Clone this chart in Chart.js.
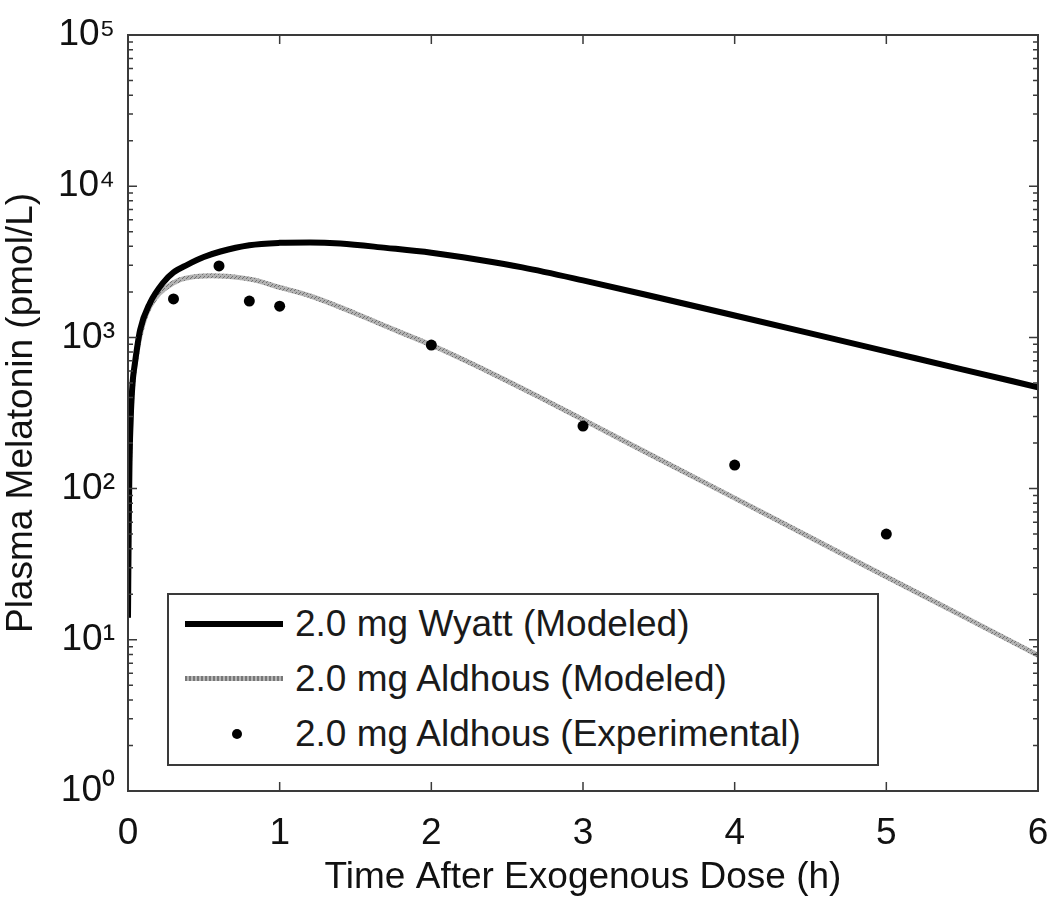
<!DOCTYPE html>
<html>
<head>
<meta charset="utf-8">
<script src="https://cdn.jsdelivr.net/npm/chart.js@4.4.1/dist/chart.umd.min.js"></script>
<style>
    body { margin: 0; background: #fff; }
    #wrap { position: relative; width: 1050px; height: 908px; }
    #legend {
        position: absolute; left: 167px; top: 593px; width: 708px; height: 169px;
        border: 2px solid #3a3a3a; background: #fff;
        font-family: "Liberation Sans", Arial, sans-serif; font-size: 37px; color: #1a1a1a;
    }
    .row { position: absolute; left: 0; height: 40px; display: flex; align-items: center; }
    .sample { position: absolute; left: 16px; width: 98px; }
    .txt { position: absolute; left: 126px; white-space: nowrap; }
</style>
</head>
<body>
<div id="wrap">
    <canvas id="melatoninChart" width="1050" height="908"></canvas>
    <div id="legend"></div>
</div>
<script>
// values (time in h, concentration in pmol/L)
const wyattTime = [0, 0.005, 0.01, 0.02, 0.03, 0.046, 0.08, 0.145, 0.23, 0.3, 0.39, 0.5, 0.61, 0.8, 1.0, 1.2, 1.4, 1.7, 2.0, 2.3, 2.6, 3.0, 3.5, 4.0, 4.5, 5.0, 5.5, 6.0];
const wyattConc = [14, 60, 150, 330, 500, 680, 1120, 1690, 2290, 2690, 3020, 3400, 3700, 4070, 4220, 4250, 4180, 3910, 3630, 3273, 2904, 2382, 1828, 1396, 1064, 809, 615, 468];

const aldhousTime = [0, 0.005, 0.01, 0.02, 0.03, 0.05, 0.08, 0.12, 0.18, 0.25, 0.34, 0.45, 0.55, 0.65, 0.83, 1.0, 1.2, 1.5, 1.75, 2.0, 2.4, 2.7, 3.0, 3.5, 4.0, 4.5, 5.0, 5.5, 6.0];
const aldhousConc = [14, 58, 140, 310, 470, 690, 1030, 1420, 1820, 2130, 2400, 2530, 2560, 2540, 2400, 2140, 1880, 1440, 1130, 890, 578, 409, 286, 157, 86.5, 47.5, 26.1, 14.4, 7.9];

const expTime = [0.3, 0.6, 0.8, 1, 2, 3, 4, 5];
const expConc = [1795, 2970, 1740, 1610, 890, 259, 143, 50];

const seriesLabels = ['2.0 mg Wyatt (Modeled)', '2.0 mg Aldhous (Modeled)', '2.0 mg Aldhous (Experimental)'];
const xTicks = [0, 1, 2, 3, 4, 5, 6];
const yDecades = [1, 10, 100, 1000, 10000, 100000];
const supDigits = ['\u2070', '\u00B9', '\u00B2', '\u00B3', '\u2074', '\u2075'];

const FONT = '"Liberation Sans", Arial, sans-serif';

function toPoints(xs, ys) {
    return xs.map(function (x, i) { return { x: x, y: ys[i] }; });
}

const ctx = document.getElementById('melatoninChart').getContext('2d');

// speckled grey, like the printed line
function speckle() {
    const c = document.createElement('canvas');
    c.width = 4; c.height = 4;
    const g = c.getContext('2d');
    g.fillStyle = '#b2b2b2';
    g.fillRect(0, 0, 4, 4);
    g.fillStyle = '#707070';
    g.fillRect(0, 0, 1, 1);
    g.fillRect(2, 2, 1, 1);
    g.fillRect(3, 1, 1, 1);
    return ctx.createPattern(c, 'repeat');
}

// frame plus inward tick marks on all four sides
const framePlugin = {
    id: 'frame',
    afterDatasetsDraw(chart) {
        const a = chart.chartArea;
        const xs = chart.scales.x, ys = chart.scales.y;
        const c = chart.ctx;
        c.save();
        c.strokeStyle = '#3a3a3a';
        c.lineWidth = 1.5;
        c.beginPath();
        xTicks.forEach(function (t) {
            const px = xs.getPixelForValue(t);
            c.moveTo(px, a.bottom); c.lineTo(px, a.bottom - 9);
            c.moveTo(px, a.top); c.lineTo(px, a.top + 9);
        });
        yDecades.forEach(function (d, i) {
            for (let m = 1; m <= 9; m++) {
                if (i === yDecades.length - 1 && m > 1) break;
                const py = ys.getPixelForValue(d * m);
                const len = m === 1 ? 9 : 5;
                c.moveTo(a.left, py); c.lineTo(a.left + len, py);
                c.moveTo(a.right, py); c.lineTo(a.right - len, py);
            }
        });
        c.stroke();
        c.lineWidth = 2;
        c.strokeRect(a.left, a.top, a.right - a.left, a.bottom - a.top);
        c.restore();
    }
};

const chart = new Chart(ctx, {
    type: 'line',
    data: {
        datasets: [
            {
                label: seriesLabels[0],
                data: toPoints(wyattTime, wyattConc),
                borderColor: '#000',
                borderWidth: 6,
                pointRadius: 0,
                cubicInterpolationMode: 'monotone'
            },
            {
                label: seriesLabels[1],
                data: toPoints(aldhousTime, aldhousConc),
                borderColor: speckle(),
                borderWidth: 5,
                pointRadius: 0,
                cubicInterpolationMode: 'monotone'
            },
            {
                label: seriesLabels[2],
                data: toPoints(expTime, expConc),
                showLine: false,
                pointRadius: 5.5,
                pointBackgroundColor: '#000',
                pointBorderWidth: 0,
                order: -1
            }
        ]
    },
    options: {
        responsive: false,
        animation: false,
        layout: { padding: { left: 0, top: 35, right: 12, bottom: 0 } },
        plugins: { legend: { display: false }, tooltip: { enabled: false } },
        scales: {
            x: {
                type: 'linear',
                min: 0,
                max: 6,
                grid: { display: false },
                border: { display: false },
                afterFit: function (s) { s.height = 117; s.paddingLeft = 0; s.paddingRight = 0; },
                afterBuildTicks: function (s) { s.ticks = xTicks.map(function (v) { return { value: v }; }); },
                ticks: { color: '#111', padding: 13, font: { family: FONT, size: 37 } },
                title: {
                    display: true,
                    text: 'Time After Exogenous Dose (h)',
                    color: '#111',
                    padding: { top: 0, bottom: 8 },
                    font: { family: FONT, size: 37 }
                }
            },
            y: {
                type: 'logarithmic',
                min: 1,
                max: 100000,
                grid: { display: false },
                border: { display: false },
                afterFit: function (s) { s.width = 128; s.paddingTop = 0; s.paddingBottom = 0; },
                afterBuildTicks: function (s) { s.ticks = yDecades.map(function (v) { return { value: v }; }); },
                ticks: {
                    color: '#111',
                    padding: 5,
                    font: { family: FONT, size: 37 },
                    callback: function (v) { return '10' + supDigits[Math.round(Math.log10(v))]; }
                },
                title: {
                    display: true,
                    text: 'Plasma Melatonin (pmol/L)',
                    color: '#111',
                    padding: { top: 0, bottom: 0 },
                    font: { family: FONT, size: 37 }
                }
            }
        }
    },
    plugins: [framePlugin]
});

// legend box inside the plot, built from the datasets
const legend = document.getElementById('legend');
const rowCenters = [29, 84, 139];
chart.data.datasets.forEach(function (ds, i) {
    const row = document.createElement('div');
    row.className = 'row';
    row.style.top = (rowCenters[i] - 20) + 'px';
    const sample = document.createElement('div');
    sample.className = 'sample';
    if (i === 0) {
        sample.style.height = '6px'; sample.style.background = '#000'; sample.style.top = '17px';
    } else if (i === 1) {
        sample.style.height = '5px'; sample.style.top = '17px';
        sample.style.background = 'repeating-linear-gradient(90deg, #777 0 2px, #b4b4b4 2px 4px)';
    } else {
        sample.style.left = '63px'; sample.style.width = '10px'; sample.style.height = '10px';
        sample.style.top = '15px'; sample.style.borderRadius = '50%'; sample.style.background = '#000';
    }
    const txt = document.createElement('span');
    txt.className = 'txt';
    txt.textContent = ds.label;
    row.appendChild(sample);
    row.appendChild(txt);
    legend.appendChild(row);
});
</script>
</body>
</html>
